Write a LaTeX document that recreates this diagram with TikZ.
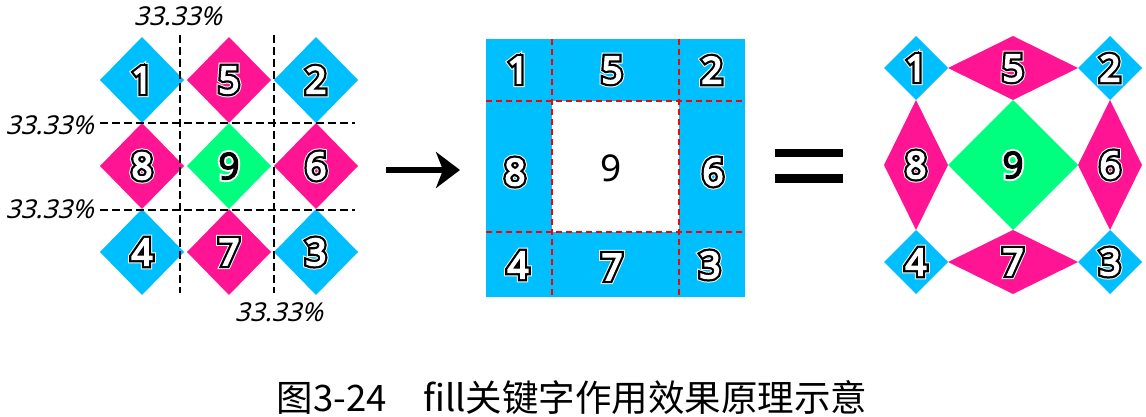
\documentclass[tikz,border=0pt]{standalone}
\usepackage{fontspec}
\usetikzlibrary{arrows.meta}
\setmainfont{Noto Sans}
\newfontfamily\cjkfont{Noto Sans CJK SC}
\newfontfamily\pctfont[FakeSlant=0.25]{Noto Sans}
\definecolor{skyfill}{RGB}{0,191,255}
\definecolor{pinkfill}{RGB}{255,20,147}
\definecolor{greenfill}{RGB}{0,255,127}
% text render mode: fill + stroke
\newcommand{\strokemode}[3]{\special{pdf:literal direct 2 Tr #1 w #2 G #3 g}}
\newcommand{\plainmode}{\special{pdf:literal direct 0 Tr 1 w 0 G 0 g}}
% white digit, black rim, white halo
\newcommand{\outdigit}[1]{\strokemode{8}{1}{1}#1\llap{\strokemode{6}{0}{1}#1}\llap{\strokemode{1.5}{1}{1}#1}\plainmode}
% black digit, white rim
\newcommand{\plaindigit}[1]{\strokemode{5}{1}{1}#1\llap{\strokemode{1.2}{0}{0}#1}\plainmode}

\begin{document}
\begin{tikzpicture}[x=1pt,y=1pt,yscale=-1,
  digit/.style={font=\fontsize{37}{37}\selectfont, inner sep=0pt},
  pct/.style={font=\pctfont\fontsize{26}{26}\selectfont, inner sep=0pt},
  guide/.style={line width=2.7pt, dash pattern=on 8pt off 4pt},
  slice/.style={red, line width=2.7pt, dash pattern=on 6pt off 4pt}]
\useasboundingbox (0,0) rectangle (1146,417);

%Left: nine diamonds
\foreach \cx/\cy/\col/\lab/\nm in {142/80/skyfill/1/L1, 229/80/pinkfill/5/L5, 316/80/skyfill/2/L2,
    142/166/pinkfill/8/L8, 316/166/pinkfill/6/L6,
    142/252/skyfill/4/L4, 229/252/pinkfill/7/L7, 316/252/skyfill/3/L3}
{
  \fill[\col] (\cx-42,\cy) -- (\cx,\cy-43) -- (\cx+42,\cy) -- (\cx,\cy+43) -- cycle;
  \node[digit] (\nm) at (\cx,\cy) {\outdigit{\lab}};
}
\fill[greenfill] (229-42,166) -- (229,166-43) -- (229+42,166) -- (229,166+43) -- cycle;
\node[digit] (L9) at (229,166) {\plaindigit{9}};

%Left: guides
\draw[guide] (180,35) -- (180,293);
\draw[guide] (274,35) -- (274,293);
\draw[guide] (100,123) -- (355,123);
\draw[guide] (100,210) -- (355,210);

%Percent labels
\node[pct] (pctT) at (178,16) {33.33\%};
\node[pct, anchor=east] (pctL1) at (94,125) {33.33\%};
\node[pct, anchor=east] (pctL2) at (94,209) {33.33\%};
\node[pct] (pctB) at (279,312) {33.33\%};

%Arrow
\coordinate (arrS) at (386,170);
\coordinate (arrE) at (460,170);
\draw[line width=6pt, -{Stealth[length=24pt,width=36pt,inset=7pt]}] (arrS) -- (arrE);

%Middle: sliced box
\fill[skyfill] (486,39) rectangle (745,297);
\fill[white] (552,101) rectangle (679,232);
\draw[slice] (552,39) -- (552,297);
\draw[slice] (679,39) -- (679,297);
\draw[slice] (486,101) -- (745,101);
\draw[slice] (486,232) -- (745,232);
\foreach \cx/\cy/\lab/\nm in {518/70/1/M1, 612/70/5/M5, 712/70/2/M2,
    515/172/8/M8, 713/172/6/M6,
    518/265/4/M4, 612/267/7/M7, 710/265/3/M3}
{
  \node[digit] (\nm) at (\cx,\cy) {\outdigit{\lab}};
}
\node[digit] (M9) at (611,168) {9};

%Equals
\fill (775,149) rectangle (843,157);
\fill (775,174) rectangle (843,183);

%Right: stretched diamonds
\foreach \xa/\xb/\ya/\yb/\col/\lab/\nm in {884/948/36/100/skyfill/1/R1, 948/1078/36/100/pinkfill/5/R5, 1078/1142/36/100/skyfill/2/R2,
    884/948/100/230/pinkfill/8/R8, 1078/1142/100/230/pinkfill/6/R6,
    884/948/230/294/skyfill/4/R4, 948/1078/230/294/pinkfill/7/R7, 1078/1142/230/294/skyfill/3/R3}
{
  \fill[\col] (\xa,{(\ya+\yb)/2}) -- ({(\xa+\xb)/2},\ya) -- (\xb,{(\ya+\yb)/2}) -- ({(\xa+\xb)/2},\yb) -- cycle;
  \node[digit] (\nm) at ({(\xa+\xb)/2},{(\ya+\yb)/2}) {\outdigit{\lab}};
}
\fill[greenfill] (948,165) -- (1013,100) -- (1078,165) -- (1013,230) -- cycle;
\node[digit] (R9) at (1013,165) {\plaindigit{9}};

%Caption
\node[font=\cjkfont\fontsize{36.5}{36.5}\selectfont, inner sep=0pt] (caption) at (572,398) {图3-24\hspace{1em}fill关键字作用效果原理示意};

\end{tikzpicture}
\end{document}
